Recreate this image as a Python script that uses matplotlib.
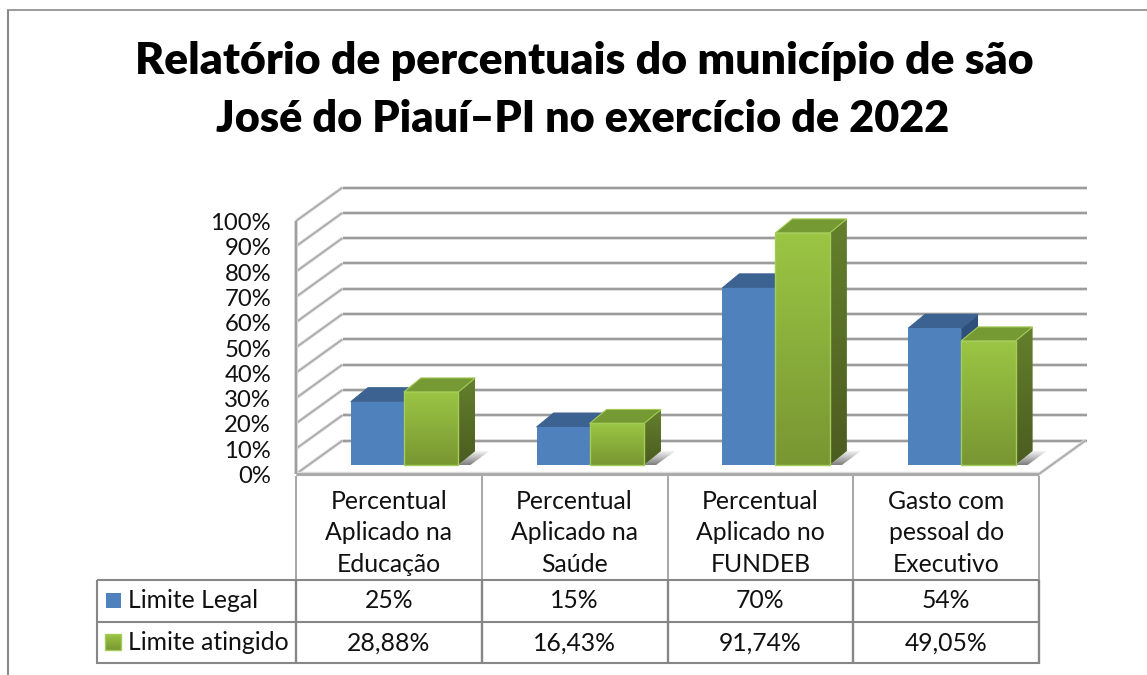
import numpy as np
import matplotlib
matplotlib.use("Agg")
import matplotlib.pyplot as plt
from matplotlib.patches import Polygon
from matplotlib.colors import LinearSegmentedColormap

title_lines = ["Relatório de percentuais do município de são",
               "José do Piauí\u2013PI no exercício de 2022"]
categories = ["Percentual\nAplicado na\nEducação", "Percentual\nAplicado na\nSaúde",
              "Percentual\nAplicado no\nFUNDEB", "Gasto com\npessoal do\nExecutivo"]
limite_legal = [25, 15, 70, 54]
limite_atingido = [28.88, 16.43, 91.74, 49.05]
legal_labels = ["25%", "15%", "70%", "54%"]
atingido_labels = ["28,88%", "16,43%", "91,74%", "49,05%"]
series_names = ["Limite Legal", "Limite atingido"]
y_ticks = list(range(0, 101, 10))

W, H = 1147, 675
FONT = "Lato"
fig = plt.figure(figsize=(W / 100, H / 100), dpi=100, facecolor="white")
X0, X1, Y0, Y100 = 296, 1039, 474, 221
ax = fig.add_axes([X0 / W, 1 - Y0 / H, (X1 - X0) / W, (Y0 - Y100) / H])
ax.set_xlim(0, 4)
ax.set_ylim(0, 100)
ax.axis("off")

PX = 4 / (X1 - X0)          # data units per pixel, x
PY = 100 / (Y0 - Y100)      # data units per pixel, y
BACK_X, BACK_Y = 46.5 * PX, 33.5 * PY
BAR_OFF_X, BAR_OFF_Y = 15 * PX, 9 * PY
BLUE_W, GREEN_W = 53 * PX, 54.5 * PX
D_X, D_Y = 17 * PX, 14 * PY


def py(p):
    return (Y0 - p) * PY


def px(p):
    return (p - X0) * PX


def line(xs, ys, color, lw, z=1, **kw):
    ax.plot(xs, ys, color=color, lw=lw, clip_on=False, zorder=z,
            solid_capstyle="butt", **kw)


def soft(xs, ys, z=1, dark="#9C9C9C", lw=1.5):
    line(xs, ys, "#DCDCDC", lw + 1.2, z)
    line(xs, ys, dark, lw, z + 0.01)


def grad_poly(pts, top, bottom, z, edge=None):
    pts = np.array(pts)
    cmap = LinearSegmentedColormap.from_list("g", [bottom, top])
    xmin, xmax, ymin, ymax = pts[:, 0].min(), pts[:, 0].max(), pts[:, 1].min(), pts[:, 1].max()
    im = ax.imshow(np.linspace(1, 0, 128).reshape(-1, 1), cmap=cmap, vmin=0, vmax=1,
                   extent=[xmin, xmax, ymin, ymax], aspect="auto", zorder=z)
    poly = Polygon(pts, closed=True, transform=ax.transData, fc="none", ec="none")
    ax.add_patch(poly)
    poly.set_clip_on(False)
    im.set_clip_path(poly)
    im.set_clip_box(fig.bbox)
    if edge:
        ax.add_patch(Polygon(pts, closed=True, fc="none", ec=edge, lw=1.0, zorder=z + 0.01, clip_on=False))
    ax.set_xlim(0, 4)
    ax.set_ylim(0, 100)


# walls / floor
for t in y_ticks:
    soft([BACK_X, 4 + BACK_X + 1.5 * PX], [t + BACK_Y, t + BACK_Y])
    soft([0, BACK_X], [t, t + BACK_Y], dark="#ABABAB", lw=1.2)
soft([0, 0], [0, 100], z=2, dark="#A0A0A0", lw=1.6)
soft([0, 4], [0, 0], z=2, dark="#A8A8A8", lw=2.0)
soft([4, 4 + BACK_X], [0, BACK_Y], z=2, dark="#ABABAB", lw=1.2)

# y tick labels
for t in y_ticks:
    ax.text(px(271), t - 1.0, f"{t}%", ha="right", va="center", fontsize=17.2,
            family=FONT, color="#111111", clip_on=False)


def bar(x0, width, v, z, front, side, topc, edge=None, shadow=False):
    x1 = x0 + width
    y0 = BAR_OFF_Y
    y1 = v + BAR_OFF_Y
    if shadow:
        pts = [(x1, y0), (x1 + D_X, y0 + D_Y), (x1 + 31 * PX, y0 + D_Y), (x1 + 12 * PX, y0)]
        grad_poly(pts, "#F4F4F4", "#7C7C7C", z - 0.5)
    grad_poly([(x1, y0), (x1 + D_X, y0 + D_Y), (x1 + D_X, y1 + D_Y), (x1, y1)], side[0], side[1], z)
    ax.add_patch(Polygon([(x0, y1), (x1, y1), (x1 + D_X, y1 + D_Y), (x0 + D_X, y1 + D_Y)],
                         closed=True, fc=topc, ec=edge or topc, lw=0.8, zorder=z, clip_on=False))
    grad_poly([(x0, y0), (x1, y0), (x1, y1), (x0, y1)], front[0], front[1], z + 0.1, edge=edge)


for i, (a, b) in enumerate(zip(limite_legal, limite_atingido)):
    c = i + 0.5 + BAR_OFF_X
    z = 5 + i
    bar(c - BLUE_W, BLUE_W, a, z, ("#4F81BD", "#4F81BD"), ("#2F507B", "#2F507B"), "#3C6292")
    bar(c, GREEN_W, b, z + 0.3, ("#9BC644", "#789632"), ("#64802C", "#4B5C20"), "#759A33",
        edge="#A4CC58", shadow=True)

# title
ax.text(px(584), py(61), title_lines[0], ha="center", va="center", fontsize=32.0, fontweight="heavy",
        family=FONT, color="black", clip_on=False)
ax.text(px(583), py(119), title_lines[1], ha="center", va="center", fontsize=31.1, fontweight="heavy",
        family=FONT, color="black", clip_on=False)

# table
LIGHT, DARK = "#A6A6A6", "#878787"
for j in range(5):
    line([j, j], [py(476), py(580)], LIGHT, 1.4, 3)
    line([j, j], [py(580), py(663.5)], DARK, 1.7, 3)
for p in (580, 622, 663):
    line([px(97), 4], [py(p), py(p)], DARK, 1.5, 3)
line([px(97), px(97)], [py(580), py(663.5)], DARK, 1.5, 3)

for i in range(4):
    ax.text(i + 0.5, py(533), categories[i], ha="center", va="center", fontsize=17.8,
            family=FONT, linespacing=1.46, color="#111111", clip_on=False)
    ax.text(i + 0.5, py(601), legal_labels[i], ha="center", va="center", fontsize=17.8,
            family=FONT, color="#111111", clip_on=False)
    ax.text(i + 0.5, py(643), atingido_labels[i], ha="center", va="center", fontsize=17.8,
            family=FONT, color="#111111", clip_on=False)

for name, y in zip(series_names, (601, 643)):
    ax.text(px(128), py(y), name, ha="left", va="center", fontsize=17.8,
            family=FONT, color="#111111", clip_on=False)

ax.add_patch(Polygon([(px(106), py(593)), (px(121), py(593)), (px(121), py(608)), (px(106), py(608))],
                     closed=True, fc="#4F81BD", ec="none", clip_on=False))
grad_poly([(px(105), py(634)), (px(121), py(634)), (px(121), py(650)), (px(105), py(650))],
          "#9BC644", "#789632", 4, edge="#A4CC58")

# outer frame (left and top only; cropped elsewhere)
line([px(7.5), px(7.5)], [py(675), py(10)], "#8A8A8A", 1.5, 1)
line([px(7), px(1147)], [py(10), py(10)], "#8A8A8A", 1.2, 1)

ax.set_xlim(0, 4)
ax.set_ylim(0, 100)
fig.savefig("out.png", dpi=100, facecolor="white")
